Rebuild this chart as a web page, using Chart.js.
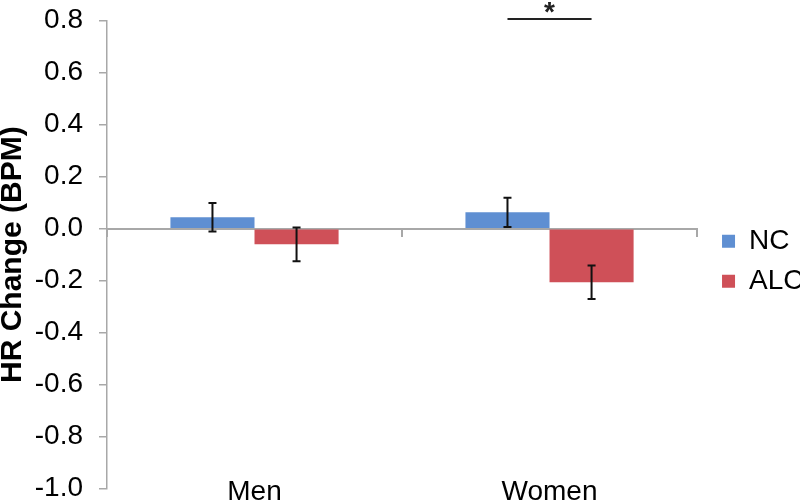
<!DOCTYPE html>
<html>
<head>
<meta charset="utf-8">
<script src="https://cdn.jsdelivr.net/npm/chart.js@4.4.1/dist/chart.umd.min.js"></script>
<style>
  html, body { margin: 0; padding: 0; background: #fff; overflow: hidden; }
  canvas { display: block; }
</style>
</head>
<body>
<canvas id="c" width="800" height="502" style="width:800px;height:502px"></canvas>
<script>
// ---- data ----
const categories = ['Men', 'Women'];
const seriesNames = ['NC', 'ALC'];
const ncValues = [0.044, 0.063];
const alcValues = [-0.060, -0.206];
const ncErrors = [0.055, 0.056];
const alcErrors = [0.065, 0.064];
const yMin = -1.0, yMax = 0.8, yStep = 0.2;
const sigCategory = 'Women';
const sigValue = 0.807;
const sigLabel = '*';

const FONT = "'Liberation Sans', Arial, sans-serif";
const AXIS_GREY = '#a8a8a8';
const errorsByDataset = [ncErrors, alcErrors];

const errorBarPlugin = {
  id: 'errorBars',
  afterLayout(chart) {
    // small gap between plot and legend, as in the original
    chart.legend.left += 13;
    chart.legend.right += 13;
  },
  afterDatasetsDraw(chart) {
    const ctx = chart.ctx;
    const y = chart.scales.y;
    ctx.save();
    ctx.strokeStyle = '#111';
    ctx.lineWidth = 2;
    chart.data.datasets.forEach((ds, di) => {
      const meta = chart.getDatasetMeta(di);
      meta.data.forEach((bar, i) => {
        const v = ds.data[i];
        const e = errorsByDataset[di][i];
        const yTop = y.getPixelForValue(v + e);
        const yBot = y.getPixelForValue(v - e);
        const x = bar.x;
        ctx.beginPath();
        ctx.moveTo(x, yTop); ctx.lineTo(x, yBot);
        ctx.moveTo(x - 4, yTop); ctx.lineTo(x + 4, yTop);
        ctx.moveTo(x - 4, yBot); ctx.lineTo(x + 4, yBot);
        ctx.stroke();
      });
    });
    // significance bracket
    const ci = categories.indexOf(sigCategory);
    const x1 = chart.getDatasetMeta(0).data[ci].x;
    const x2 = chart.getDatasetMeta(1).data[ci].x;
    const ys = y.getPixelForValue(sigValue);
    ctx.strokeStyle = '#222';
    ctx.lineWidth = 2;
    ctx.beginPath();
    ctx.moveTo(x1, ys); ctx.lineTo(x2, ys);
    ctx.stroke();
    ctx.fillStyle = '#222';
    ctx.font = 'bold 28px ' + FONT;
    ctx.textAlign = 'center';
    ctx.textBaseline = 'alphabetic';
    ctx.fillText(sigLabel, (x1 + x2) / 2, ys + 2);
    ctx.restore();
  }
};

new Chart(document.getElementById('c'), {
  type: 'bar',
  data: {
    labels: categories,
    datasets: [
      { label: seriesNames[0], data: ncValues, backgroundColor: '#5f8fd2', borderWidth: 0,
        categoryPercentage: 0.57, barPercentage: 1.0 },
      { label: seriesNames[1], data: alcValues, backgroundColor: '#cf5058', borderWidth: 0,
        categoryPercentage: 0.57, barPercentage: 1.0 }
    ]
  },
  options: {
    responsive: false,
    maintainAspectRatio: false,
    animation: false,
    layout: { padding: { top: 20.7, right: -0.5, bottom: 0, left: 0 } },
    plugins: {
      tooltip: { enabled: false },
      legend: {
        position: 'right',
        labels: {
          font: { family: FONT, size: 28 },
          color: '#000',
          boxWidth: 13,
          boxHeight: 13,
          padding: 12
        }
      }
    },
    scales: {
      x: {
        type: 'category',
        offset: true,
        grid: { display: false, drawTicks: false, tickLength: 0 },
        border: { display: false },
        ticks: { font: { family: FONT, size: 28 }, color: '#000', padding: -20, mirror: true, maxRotation: 0 },
        afterFit(axis) { axis.height = 13.3; axis.paddingLeft = 0; axis.paddingRight = 0; }
      },
      x2: {
        type: 'category',
        labels: categories,
        position: { y: 0 },
        offset: true,
        grid: { offset: true, drawOnChartArea: false, drawTicks: true, tickLength: 7, color: AXIS_GREY, lineWidth: 2 },
        border: { display: true, color: AXIS_GREY, width: 2 },
        ticks: { display: false },
        afterFit(axis) { axis.paddingLeft = 0; axis.paddingRight = 0; }
      },
      y: {
        min: yMin,
        max: yMax,
        ticks: {
          stepSize: yStep,
          font: { family: FONT, size: 28 },
          color: '#000',
          padding: 16,
          callback: v => Number(v).toFixed(1)
        },
        grid: { drawOnChartArea: false, tickLength: 8, color: AXIS_GREY, lineWidth: 1.5 },
        border: { display: true, color: AXIS_GREY, width: 1.5 },
        title: {
          display: true,
          text: 'HR Change (BPM)',
          font: { family: FONT, size: 30, weight: 'bold' },
          color: '#000',
          padding: { top: -5, bottom: 4 }
        },
        afterFit(axis) { axis.width = 107; axis.paddingTop = 0; axis.paddingBottom = 0; }
      }
    }
  },
  plugins: [errorBarPlugin]
});
</script>
</body>
</html>
